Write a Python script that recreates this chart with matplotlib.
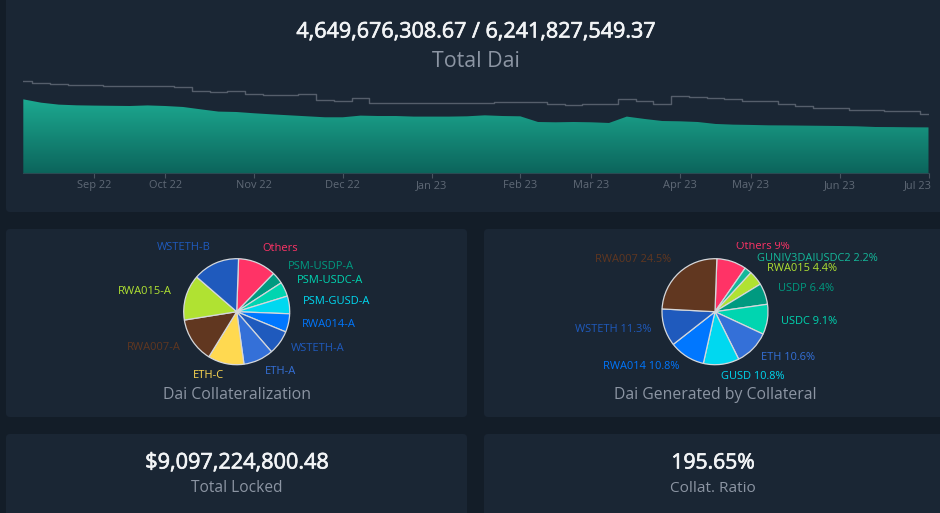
#!/usr/bin/env python3
import numpy as np
import matplotlib
matplotlib.use("Agg")
import matplotlib.pyplot as plt
import matplotlib.patheffects as pe
from matplotlib.colors import LinearSegmentedColormap
from matplotlib.patches import FancyBboxPatch, Rectangle
from matplotlib.transforms import ScaledTranslation

W, H = 940, 513
FONT = "Open Sans"

# weekly supply, in billions
dai_total = [7.51, 7.17, 6.97, 6.90, 6.87, 6.85, 6.83, 6.89, 6.83, 6.73, 6.49, 6.26, 6.22,
             6.09, 5.98, 5.88, 5.78, 5.68, 5.68, 5.85, 5.81, 5.81, 5.75, 5.75, 5.75, 5.78,
             5.88, 5.81, 5.78, 5.20, 5.17, 5.20, 5.17, 5.10, 5.75, 5.51, 5.30, 5.27, 5.20,
             5.00, 4.93, 4.90, 4.86, 4.85, 4.83, 4.81, 4.79, 4.76, 4.69, 4.68, 4.66, 4.65]
dai_ceiling = [9.42, 9.21, 9.08, 9.01, 9.01, 8.87, 8.89, 8.91, 8.82, 8.77, 8.40, 8.26, 8.36,
               8.06, 7.99, 7.96, 8.06, 7.41, 7.34, 7.62, 7.11, 7.11, 7.11, 7.12, 7.14, 7.14,
               7.17, 7.19, 7.21, 7.28, 7.00, 6.90, 7.07, 7.07, 7.58, 7.31, 7.07, 7.85, 7.72,
               7.62, 7.51, 7.31, 7.31, 7.07, 6.87, 6.66, 6.60, 6.43, 6.41, 6.29, 6.36, 5.98]
month_idx = [4, 8, 13, 18, 23, 28, 32, 37, 41, 46, 51]
month_labels = ["Sep 22", "Oct 22", "Nov 22", "Dec 22", "Jan 23", "Feb 23", "Mar 23",
                "Apr 23", "May 23", "Jun 23", "Jul 23"]

collat_labels = ["Others", "PSM-USDP-A", "PSM-USDC-A", "PSM-GUSD-A", "RWA014-A", "WSTETH-A",
                 "ETH-A", "ETH-C", "RWA007-A", "RWA015-A", "WSTETH-B"]
collat_values = [11.7, 3.6, 4.4, 5.4, 5.6, 7.4, 9.2, 11.0, 13.7, 13.9, 14.2]
collat_colors = ["#ff3366", "#009a80", "#00d5b0", "#00d8f0", "#0077ff", "#1f5abd",
                 "#3470d8", "#ffd950", "#613720", "#b0e232", "#1f5abd"]

gen_labels = ["Others", "GUNIV3DAIUSDC2", "RWA015", "USDP", "USDC", "ETH", "GUSD", "RWA014",
              "WSTETH", "RWA007"]
gen_values = [9, 2.2, 4.4, 6.4, 9.1, 10.6, 10.8, 10.8, 11.3, 24.5]
gen_colors = ["#ff3366", "#14b89a", "#b0e232", "#009a80", "#00d5b0", "#3470d8",
              "#00d8f0", "#0077ff", "#1f5abd", "#613720"]

# label centres in pixels, same order as the slices
collat_pos = [(280, 247), (321, 265), (330, 279), (337, 300), (329, 323), (318, 347),
              (281, 370), (208, 374), (154, 346), (145, 290), (184, 246.5)]
gen_pos = [(763, 245), (817, 257), (802, 267), (806, 287), (809, 320), (788, 356),
           (753, 375), (641, 365), (613, 328), (633, 258)]


def px_axes(fig, x0, y0, x1, y1):
    return fig.add_axes([x0 / W, 1 - y1 / H, (x1 - x0) / W, (y1 - y0) / H])


def draw_area(fig):
    ax = px_axes(fig, 23.3, 70, 928.5, 173)
    ax.patch.set_alpha(0)
    x = np.arange(len(dai_total))
    ax.set_xlim(0, len(dai_total) - 1)
    ax.set_ylim(0, 10.5)

    # vertical gradient clipped to the area
    poly = ax.fill_between(x, 0, dai_total, color="none", lw=0)
    cmap = LinearSegmentedColormap.from_list("dai", ["#0c655c", "#1ca990"])
    img = ax.imshow(np.linspace(1, 0, 128).reshape(-1, 1), cmap=cmap, aspect="auto",
                    extent=(0, len(dai_total) - 1, 0, max(dai_total)), zorder=1)
    img.set_clip_path(poly.get_paths()[0], transform=ax.transData)
    ax.set_xlim(0, len(dai_total) - 1)
    ax.set_ylim(0, 10.5)

    ax.step(x, dai_ceiling, where="mid", color="#555e6b", lw=1.0, zorder=2)

    for s in ["top", "left", "right"]:
        ax.spines[s].set_visible(False)
    ax.spines["bottom"].set_color("#2b4a52")
    ax.spines["bottom"].set_linewidth(0.8)
    ax.set_yticks([])
    ax.set_xticks(month_idx)
    ax.set_xticklabels(month_labels, fontsize=7.9, color="#5f6976", fontfamily=FONT)
    ax.tick_params(axis="x", length=3.5, width=0.8, color="#4a5460", pad=1.8)

    # last label is pushed left so it stays inside the panel
    last = ax.get_xticklabels()[-1]
    last.set_ha("right")
    last.set_transform(last.get_transform() + ScaledTranslation(3.5 / 100, 0, fig.dpi_scale_trans))


def draw_pie(fig, cx, cy, values, colors):
    r = 53
    pad = 1.02
    ax = px_axes(fig, cx - r * pad, cy - r * pad, cx + r * pad, cy + r * pad)
    ax.pie(values, colors=colors, startangle=88, counterclock=False, radius=1 / pad,
           wedgeprops={"edgecolor": "#d5d8dc", "linewidth": 0.9})
    ax.set_xlim(-1, 1)
    ax.set_ylim(-1, 1)


def main():
    fig = plt.figure(figsize=(W / 100, H / 100), dpi=100, facecolor="#131d28")

    bg = fig.add_axes([0, 0, 1, 1])
    bg.set_xlim(0, W)
    bg.set_ylim(H, 0)
    bg.axis("off")

    panels = [(6, -10, 950, 212), (6, 229, 467, 417), (484, 229, 950, 417),
              (6, 434, 467, 530), (484, 434, 950, 530)]
    for x0, y0, x1, y1 in panels:
        bg.add_patch(FancyBboxPatch((x0 + 4, y0 + 4), x1 - x0 - 8, y1 - y0 - 8,
                                    boxstyle="round,pad=4,rounding_size=4",
                                    fc="#1a2634", ec="none"))

    def label(x, y, s, size, color, heavy=False):
        # va=center sits a little high for this font
        t = bg.text(x, y + size * 0.13, s, fontsize=size, color=color, fontfamily=FONT,
                    ha="center", va="center")
        if heavy:
            t.set_path_effects([pe.withStroke(linewidth=0.5, foreground=color)])
        return t

    label(476, 30, "4,649,676,308.67 / 6,241,827,549.37", 15.5, "#f2f4f6", True)
    label(476, 59, "Total Dai", 15.4, "#8c95a3")
    label(237, 394, "Dai Collateralization", 11.4, "#8c95a3")
    label(715, 394, "Dai Generated by Collateral", 11.3, "#8c95a3")
    label(237, 461, "$9,097,224,800.48", 15.6, "#f2f4f6", True)
    label(237, 487, "Total Locked", 11.2, "#8c95a3")
    label(713, 461, "195.65%", 15.2, "#f2f4f6", True)
    label(713, 487, "Collat. Ratio", 11.1, "#8c95a3")

    for name, pos, col in zip(collat_labels, collat_pos, collat_colors):
        label(pos[0], pos[1], name, 8.0, col)

    clip = Rectangle((484, 241.5), 466, 200, transform=bg.transData)
    for name, val, pos, col in zip(gen_labels, gen_values, gen_pos, gen_colors):
        t = label(pos[0], pos[1], f"{name} {val}%", 7.9, col)
        t.set_clip_path(clip)
        t.set_clip_on(True)

    draw_area(fig)
    draw_pie(fig, 236.7, 311.7, collat_values, collat_colors)
    draw_pie(fig, 715, 311.7, gen_values, gen_colors)

    fig.savefig("out.png", dpi=100, facecolor=fig.get_facecolor())
    plt.close(fig)


if __name__ == "__main__":
    main()
